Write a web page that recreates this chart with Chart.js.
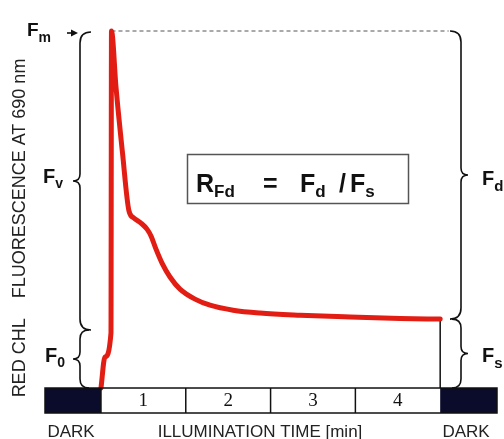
<!DOCTYPE html>
<html>
<head>
<meta charset="utf-8">
<script src="https://cdn.jsdelivr.net/npm/chart.js@4.4.1/dist/chart.umd.min.js"></script>
<style>
  html, body { margin: 0; background: #fff; }
  canvas { display: block; }
</style>
</head>
<body>
<canvas id="chart" width="504" height="439"></canvas>
<script>
// Kautsky induction curve (time in min, fluorescence in % of Fm)
const curveTime = [0, 0.047, 0.118, 0.124, 0.177, 0.254, 0.330, 0.389, 0.472, 0.543, 0.590, 0.649, 0.720, 0.814, 0.932, 1.109, 1.286, 1.558, 1.876, 2.348, 2.938, 3.528, 4.0];
const curveValue = [0, 8.7, 15.4, 100, 84.3, 65.8, 49.6, 47.6, 46.2, 44.5, 42.6, 38.9, 35.0, 31.1, 27.7, 24.9, 23.2, 21.8, 21.0, 20.4, 19.9, 19.5, 19.3];

const levelFm = 100;
const levelF0 = 15.4;
const levelFs = 19.3;
const lightOff = 4.0;

const minuteLabels = ['1', '2', '3', '4'];
const darkStart = -0.66;
const darkEnd = 4.67;

const curve = curveTime.map((t, i) => ({ x: t, y: curveValue[i] }));

function brace(ctx, x, y1, y2, dir, curl, tip) {
    const ym = (y1 + y2) / 2;
    ctx.beginPath();
    ctx.moveTo(x - dir * curl, y1);
    ctx.quadraticCurveTo(x, y1, x, y1 + curl);
    ctx.lineTo(x, ym - tip);
    ctx.quadraticCurveTo(x, ym, x + dir * tip, ym);
    ctx.quadraticCurveTo(x, ym, x, ym + tip);
    ctx.lineTo(x, y2 - curl);
    ctx.quadraticCurveTo(x, y2, x - dir * curl, y2);
    ctx.stroke();
}

function label(ctx, main, sub, x, y, size, subSize, subDrop) {
    ctx.textAlign = 'left';
    ctx.textBaseline = 'alphabetic';
    ctx.font = 'bold ' + size + 'px "Liberation Sans", Arial, sans-serif';
    ctx.fillText(main, x, y);
    const w = ctx.measureText(main).width;
    ctx.font = 'bold ' + subSize + 'px "Liberation Sans", Arial, sans-serif';
    ctx.fillText(sub, x + w, y + subDrop);
    return x + w + ctx.measureText(sub).width;
}

const decorations = {
    id: 'decorations',
    afterDatasetsDraw(chart) {
        const ctx = chart.ctx;
        const xs = chart.scales.x;
        const ys = chart.scales.y;
        const yTop = ys.getPixelForValue(0);
        const yBot = ys.getPixelForValue(ys.min);

        ctx.save();

        // time bar
        ctx.fillStyle = '#0b0b2c';
        const xa = xs.getPixelForValue(darkStart);
        const x0 = xs.getPixelForValue(0);
        const x4 = xs.getPixelForValue(minuteLabels.length);
        const xb = xs.getPixelForValue(darkEnd);
        ctx.fillRect(xa, yTop, x0 - xa, yBot - yTop);
        ctx.fillRect(x4, yTop, xb - x4, yBot - yTop);
        ctx.strokeStyle = '#111';
        ctx.lineWidth = 1.5;
        ctx.strokeRect(xa, yTop, xb - xa, yBot - yTop);
        ctx.font = '19px "Liberation Serif", "DejaVu Serif", serif';
        ctx.fillStyle = '#111';
        ctx.textAlign = 'center';
        ctx.textBaseline = 'middle';
        minuteLabels.forEach((lab, i) => {
            const xl = xs.getPixelForValue(i);
            const xr = xs.getPixelForValue(i + 1);
            ctx.beginPath();
            ctx.moveTo(xl, yTop);
            ctx.lineTo(xl, yBot);
            ctx.stroke();
            ctx.fillText(lab, (xl + xr) / 2, (yTop + yBot) / 2 + 1);
        });

        // braces
        const pFm = ys.getPixelForValue(levelFm);
        const pF0 = ys.getPixelForValue(levelF0);
        const pFs = ys.getPixelForValue(levelFs);
        ctx.strokeStyle = '#111';
        ctx.lineWidth = 1.6;
        brace(ctx, 80, pFm + 1, pF0 - 3, -1, 11, 7);
        brace(ctx, 80, pF0 - 3, yTop, -1, 9, 7);
        brace(ctx, 461, pFm, pFs, 1, 11, 7);
        brace(ctx, 461, pFs, yTop, 1, 9, 7);

        // Fm arrow
        ctx.beginPath();
        ctx.moveTo(67, 33);
        ctx.lineTo(72, 33);
        ctx.stroke();
        ctx.beginPath();
        ctx.moveTo(78, 33);
        ctx.lineTo(71, 29.5);
        ctx.lineTo(71, 36.5);
        ctx.closePath();
        ctx.fillStyle = '#111';
        ctx.fill();

        // level labels
        ctx.fillStyle = '#111';
        label(ctx, 'F', 'm', 27, 36, 19, 14, 6);
        label(ctx, 'F', 'v', 43, 183, 20, 14, 5);
        label(ctx, 'F', '0', 45, 362, 20, 14, 5);
        label(ctx, 'F', 'd', 482, 185, 20, 15, 6);
        label(ctx, 'F', 's', 482, 362, 20, 15, 6);

        // ratio box
        ctx.strokeStyle = '#555';
        ctx.lineWidth = 1.5;
        ctx.strokeRect(187.5, 154.5, 221, 49);
        ctx.fillStyle = '#111';
        label(ctx, 'R', 'Fd', 196, 192, 25, 17, 5);
        ctx.font = 'bold 25px "Liberation Sans", Arial, sans-serif';
        ctx.textAlign = 'left';
        ctx.fillText('=', 263, 192);
        label(ctx, 'F', 'd', 300, 192, 25, 17, 5);
        ctx.font = 'bold 25px "Liberation Sans", Arial, sans-serif';
        ctx.fillText('/', 339, 192);
        label(ctx, 'F', 's', 350, 192, 25, 17, 5);

        // axis texts
        ctx.font = '17px "Liberation Sans", Arial, sans-serif';
        ctx.fillStyle = '#222';
        ctx.textAlign = 'center';
        ctx.textBaseline = 'alphabetic';
        ctx.fillText('DARK', 71, 437);
        ctx.fillText('ILLUMINATION TIME [min]', 260, 437);
        ctx.fillText('DARK', 466, 437);

        ctx.translate(25, 228);
        ctx.rotate(-Math.PI / 2);
        ctx.font = '18px "Liberation Sans", Arial, sans-serif';
        ctx.fillText('RED CHL    FLUORESCENCE AT 690 nm', 0, 0);

        ctx.restore();
    }
};

const chart = new Chart(document.getElementById('chart'), {
    type: 'line',
    data: {
        datasets: [
            {
                data: curve,
                borderColor: 'rgb(226, 30, 20)',
                borderWidth: 5,
                borderJoinStyle: 'round',
                borderCapStyle: 'round',
                pointRadius: 0,
                cubicInterpolationMode: 'monotone',
                clip: false,
                order: 1
            },
            {
                data: [{ x: curveTime[3], y: levelFm }, { x: 4.1, y: levelFm }],
                borderColor: '#555',
                borderWidth: 1,
                borderDash: [4, 3],
                pointRadius: 0,
                clip: false,
                order: 3
            },
            {
                data: [{ x: lightOff, y: levelFs }, { x: lightOff, y: 0 }],
                borderColor: '#111',
                borderWidth: 1.5,
                pointRadius: 0,
                clip: false,
                order: 2
            }
        ]
    },
    options: {
        responsive: false,
        animation: false,
        layout: { padding: { left: 45, right: 7, top: 31, bottom: 26 } },
        plugins: {
            legend: { display: false },
            tooltip: { enabled: false }
        },
        scales: {
            x: { type: 'linear', min: darkStart, max: darkEnd, display: false },
            y: { type: 'linear', min: -7, max: 100, display: false }
        }
    },
    plugins: [decorations]
});
</script>
</body>
</html>
